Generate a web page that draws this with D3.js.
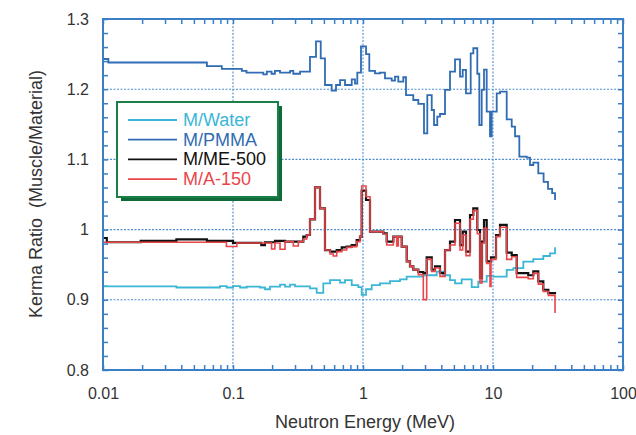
<!DOCTYPE html>
<html><head><meta charset="utf-8">
<script src="https://cdn.jsdelivr.net/npm/d3@7"></script>
<style>body{margin:0;background:#fff}svg{display:block}</style>
</head><body>
<svg id="c" width="636" height="435"></svg>
<script>
// ---- data ----
const xMajor = [0.01, 0.1, 1, 10, 100];
const xLabels = ["0.01", "0.1", "1", "10", "100"];
const yMajor = [0.8, 0.9, 1.0, 1.1, 1.2, 1.3];
const yLabels = ["0.8", "0.9", "1", "1.1", "1.2", "1.3"];
const seriesNames = ["M/Water", "M/PMMA", "M/ME-500", "M/A-150"];

// [energy bin start (MeV), ratio]  -- step functions
const waterSteps = [[0.01,0.919],[0.0367,0.9175],[0.0794,0.9195],[0.0894,0.9175],[0.1,0.9195],[0.1132,0.9175],[0.1275,0.9187],[0.1613,0.9175],[0.1763,0.915],[0.1926,0.9187],[0.23,0.9215],[0.2512,0.9187],[0.2746,0.9215],[0.2998,0.919],[0.391,0.9164],[0.4405,0.910],[0.495,0.9235],[0.5577,0.928],[0.666,0.9245],[0.727,0.928],[0.819,0.921],[0.92,0.918],[0.977,0.907],[1.055,0.915],[1.167,0.921],[1.351,0.9235],[1.613,0.9267],[1.926,0.929],[2.169,0.9329],[2.91,0.935],[3.689,0.94],[4.147,0.935],[4.669,0.928],[5.103,0.9235],[5.742,0.929],[6.858,0.918],[7.706,0.926],[8.944,0.934],[10.05,0.933],[12.75,0.9425],[14.33,0.945],[17.11,0.9543],[20.42,0.958],[24.37,0.9624],[27.45,0.966],[30,0.975]];

const pmmaSteps = [[0.01,1.243],[0.011,1.238],[0.063,1.233],[0.082,1.229],[0.117,1.226],[0.127,1.2235],[0.171,1.221],[0.182,1.225],[0.198,1.222],[0.21,1.226],[0.23,1.2235],[0.275,1.226],[0.291,1.222],[0.328,1.225],[0.391,1.246],[0.435,1.268],[0.473,1.244],[0.51,1.206],[0.574,1.198],[0.62,1.206],[0.666,1.213],[0.727,1.206],[0.819,1.214],[0.868,1.208],[0.904,1.2235],[0.965,1.261],[1.055,1.250],[1.118,1.226],[1.237,1.2226],[1.351,1.2236],[1.476,1.2155],[1.663,1.2123],[1.763,1.2178],[1.868,1.2107],[2.042,1.217],[2.142,1.1917],[2.437,1.1846],[2.664,1.179],[2.946,1.137],[3.123,1.1917],[3.378,1.1704],[3.518,1.149],[3.728,1.1608],[3.911,1.1647],[4.274,1.199],[4.669,1.225],[5.103,1.2426],[5.576,1.2178],[5.848,1.2274],[6.2,1.194],[6.738,1.251],[7.056,1.2583],[7.573,1.222],[7.846,1.149],[8.187,1.199],[8.527,1.228],[8.944,1.168],[9.483,1.133],[9.772,1.168],[10.68,1.194],[11.32,1.1965],[12.75,1.157],[13.93,1.1466],[14.77,1.133],[15.94,1.104],[18.16,1.1025],[19.26,1.092],[20.42,1.0955],[22.31,1.08],[24.5,1.068],[26.5,1.058],[28.5,1.052],[30,1.042]];

const me500Steps = [[0.01,0.988],[0.0107,0.982],[0.0195,0.9838],[0.0367,0.9862],[0.063,0.9838],[0.1,0.981],[0.165,0.978],[0.176,0.982],[0.2104,0.9838],[0.2512,0.983],[0.3474,0.9899],[0.369,0.9923],[0.391,1.0147],[0.4274,1.0602],[0.467,1.0303],[0.51,0.9709],[0.5577,0.9686],[0.628,0.9709],[0.686,0.9747],[0.749,0.9757],[0.819,0.978],[0.894,0.9852],[0.948,0.9899],[0.977,1.0554],[1.055,1.0422],[1.132,0.997],[1.433,0.9947],[1.522,0.9828],[1.711,0.9899],[1.868,0.9899],[1.985,0.9757],[2.169,0.9548],[2.299,0.9476],[2.437,0.9429],[2.664,0.9396],[2.91,0.9381],[3.09,0.9605],[3.378,0.9429],[3.58,0.9476],[3.911,0.9381],[4.274,0.9709],[4.669,0.9828],[5.103,1.0137],[5.576,0.978],[5.848,0.997],[6.2,0.9686],[6.655,1.0208],[7.056,1.0303],[7.573,0.9994],[7.943,0.931],[8.229,0.9828],[8.527,1.0137],[8.944,0.9548],[9.651,0.9605],[10.55,0.9923],[11.32,1.0066],[12.75,0.9672],[13.93,0.9638],[15.22,0.9381],[16.13,0.9381],[18.68,0.935],[20.42,0.9405],[22.31,0.9262],[24.37,0.9143],[26.64,0.9096],[30,0.908]];

const a150Steps = [[0.01,0.982],[0.089,0.976],[0.107,0.981],[0.198,0.9724],[0.21,0.981],[0.23,0.972],[0.2512,0.9828],[0.291,0.9766],[0.318,0.9828],[0.3474,0.9866],[0.369,0.9923],[0.391,1.0147],[0.4274,1.0602],[0.467,1.0303],[0.51,0.9709],[0.5577,0.9652],[0.591,0.9624],[0.628,0.9686],[0.686,0.9709],[0.749,0.9747],[0.819,0.9757],[0.894,0.9828],[0.948,0.9899],[0.977,1.0621],[1.055,1.0469],[1.132,0.997],[1.433,0.9937],[1.522,0.978],[1.711,0.9899],[1.816,0.9766],[1.868,0.9899],[1.985,0.9757],[2.169,0.9548],[2.299,0.9476],[2.437,0.9429],[2.664,0.9358],[2.91,0.9002],[3.09,0.9576],[3.378,0.9405],[3.58,0.9452],[3.911,0.9333],[4.274,0.9709],[4.669,0.978],[5.103,1.009],[5.576,0.9709],[5.848,0.9923],[6.2,0.9629],[6.655,1.0148],[7.056,1.027],[7.573,0.994],[7.943,0.9239],[8.229,0.9805],[8.527,1.0017],[8.944,0.9519],[9.483,0.9191],[9.651,0.9576],[10.55,0.99],[11.32,1.0033],[12.75,0.9576],[13.93,0.9614],[15.22,0.9319],[18.68,0.93],[20.42,0.9377],[22.31,0.9224],[24.37,0.9119],[26.64,0.9063],[30,0.8811]];

// ---- layout / style ----
const FONT = "'Liberation Sans', Arial, sans-serif";
const frameColor = "#3a7fc5";
const gridColor = "#4f8fd0";
const colors = { water: "#3bb6d6", pmma: "#2f6cb3", me: "#111111", a150: "#e8464b" };

const svg = d3.select("#c");
const x = d3.scaleLog().domain([0.01, 100]).range([103, 623]);
const y = d3.scaleLinear().domain([0.8, 1.3]).range([370, 19]);

// gridlines
const grid = svg.append("g");
grid.selectAll("line.v").data(xMajor.slice(1, -1)).enter().append("line")
  .attr("x1", d => x(d)).attr("x2", d => x(d)).attr("y1", y(1.3)).attr("y2", y(0.8))
  .attr("stroke", gridColor).attr("stroke-width", 1.1).attr("stroke-dasharray", "2 1.5");
grid.selectAll("line.h").data(yMajor.slice(1, -1)).enter().append("line")
  .attr("y1", d => y(d)).attr("y2", d => y(d)).attr("x1", x(0.01)).attr("x2", x(100))
  .attr("stroke", gridColor).attr("stroke-width", 1.1).attr("stroke-dasharray", "2 1.5");

// minor ticks (inward)
const minorX = x.ticks();
const minorY = d3.range(0.8, 1.3001, 0.02);
function styleTicks(g) {
  g.select(".domain").remove();
  g.selectAll(".tick line").attr("stroke", frameColor).attr("stroke-width", 1.5);
}
svg.append("g").attr("transform", `translate(0,${y(0.8)})`)
  .call(d3.axisBottom(x).tickValues(minorX).tickSize(-5).tickFormat("")).call(styleTicks);
svg.append("g").attr("transform", `translate(0,${y(1.3)})`)
  .call(d3.axisTop(x).tickValues(minorX).tickSize(-5).tickFormat("")).call(styleTicks);
svg.append("g").attr("transform", `translate(${x(0.01)},0)`)
  .call(d3.axisLeft(y).tickValues(minorY).tickSize(-5).tickFormat("")).call(styleTicks);
svg.append("g").attr("transform", `translate(${x(100)},0)`)
  .call(d3.axisRight(y).tickValues(minorY).tickSize(-5).tickFormat("")).call(styleTicks);

// labels
function styleLabels(g) {
  g.select(".domain").remove();
  g.selectAll(".tick line").remove();
  g.selectAll("text").attr("font-family", FONT).attr("font-size", 16).attr("fill", "#333");
}
svg.append("g").attr("transform", `translate(0,${y(0.8)})`)
  .call(d3.axisBottom(x).tickValues(xMajor).tickFormat((d, i) => xLabels[i]).tickSize(0).tickPadding(18))
  .call(styleLabels);
svg.append("g").attr("transform", `translate(${x(0.01)},0)`)
  .call(d3.axisLeft(y).tickValues(yMajor).tickFormat((d, i) => yLabels[i]).tickSize(0).tickPadding(14))
  .call(styleLabels);

// data lines
const line = d3.line().x(d => x(d[0])).y(d => y(d[1])).curve(d3.curveStepAfter);
const series = [
  { data: waterSteps, color: colors.water, w: 1.8 },
  { data: pmmaSteps, color: colors.pmma, w: 1.8 },
  { data: me500Steps, color: colors.me, w: 2.2 },
  { data: a150Steps, color: colors.a150, w: 1.6 }
];
svg.append("g").selectAll("path").data(series).enter().append("path")
  .attr("d", d => line(d.data)).attr("fill", "none")
  .attr("stroke", d => d.color).attr("stroke-width", d => d.w)
  .attr("stroke-linejoin", "miter");

// frame
svg.append("rect").attr("x", x(0.01)).attr("y", y(1.3))
  .attr("width", x(100) - x(0.01)).attr("height", y(0.8) - y(1.3))
  .attr("fill", "none").attr("stroke", frameColor).attr("stroke-width", 2);

// legend
const lg = svg.append("g");
lg.append("rect").attr("x", 121).attr("y", 106).attr("width", 161).attr("height", 95).attr("fill", "#0f6b37");
lg.append("rect").attr("x", 117).attr("y", 102).attr("width", 161).attr("height", 95)
  .attr("fill", "#fff").attr("stroke", "#1a8048").attr("stroke-width", 2);
const legendColors = [colors.water, colors.pmma, colors.me, colors.a150];
seriesNames.forEach((n, i) => {
  const yy = 120 + i * 19.7;
  lg.append("line").attr("x1", 128).attr("x2", 177).attr("y1", yy).attr("y2", yy)
    .attr("stroke", legendColors[i]).attr("stroke-width", 1.8);
  lg.append("text").attr("x", 183).attr("y", yy).attr("dominant-baseline", "central")
    .attr("font-family", FONT).attr("font-size", 18).attr("fill", legendColors[i]).text(n);
});

// axis titles
svg.append("text").attr("x", 365).attr("y", 422).attr("text-anchor", "middle")
  .attr("dominant-baseline", "central").attr("font-family", FONT).attr("font-size", 18)
  .attr("fill", "#333").text("Neutron Energy (MeV)");
svg.append("text").attr("transform", "translate(36,194) rotate(-90)").attr("text-anchor", "middle")
  .attr("dominant-baseline", "central").attr("font-family", FONT).attr("font-size", 18)
  .attr("fill", "#333").style("white-space", "pre")
  .text("Kerma Ratio  (Muscle/Material)");
</script>
</body></html>
